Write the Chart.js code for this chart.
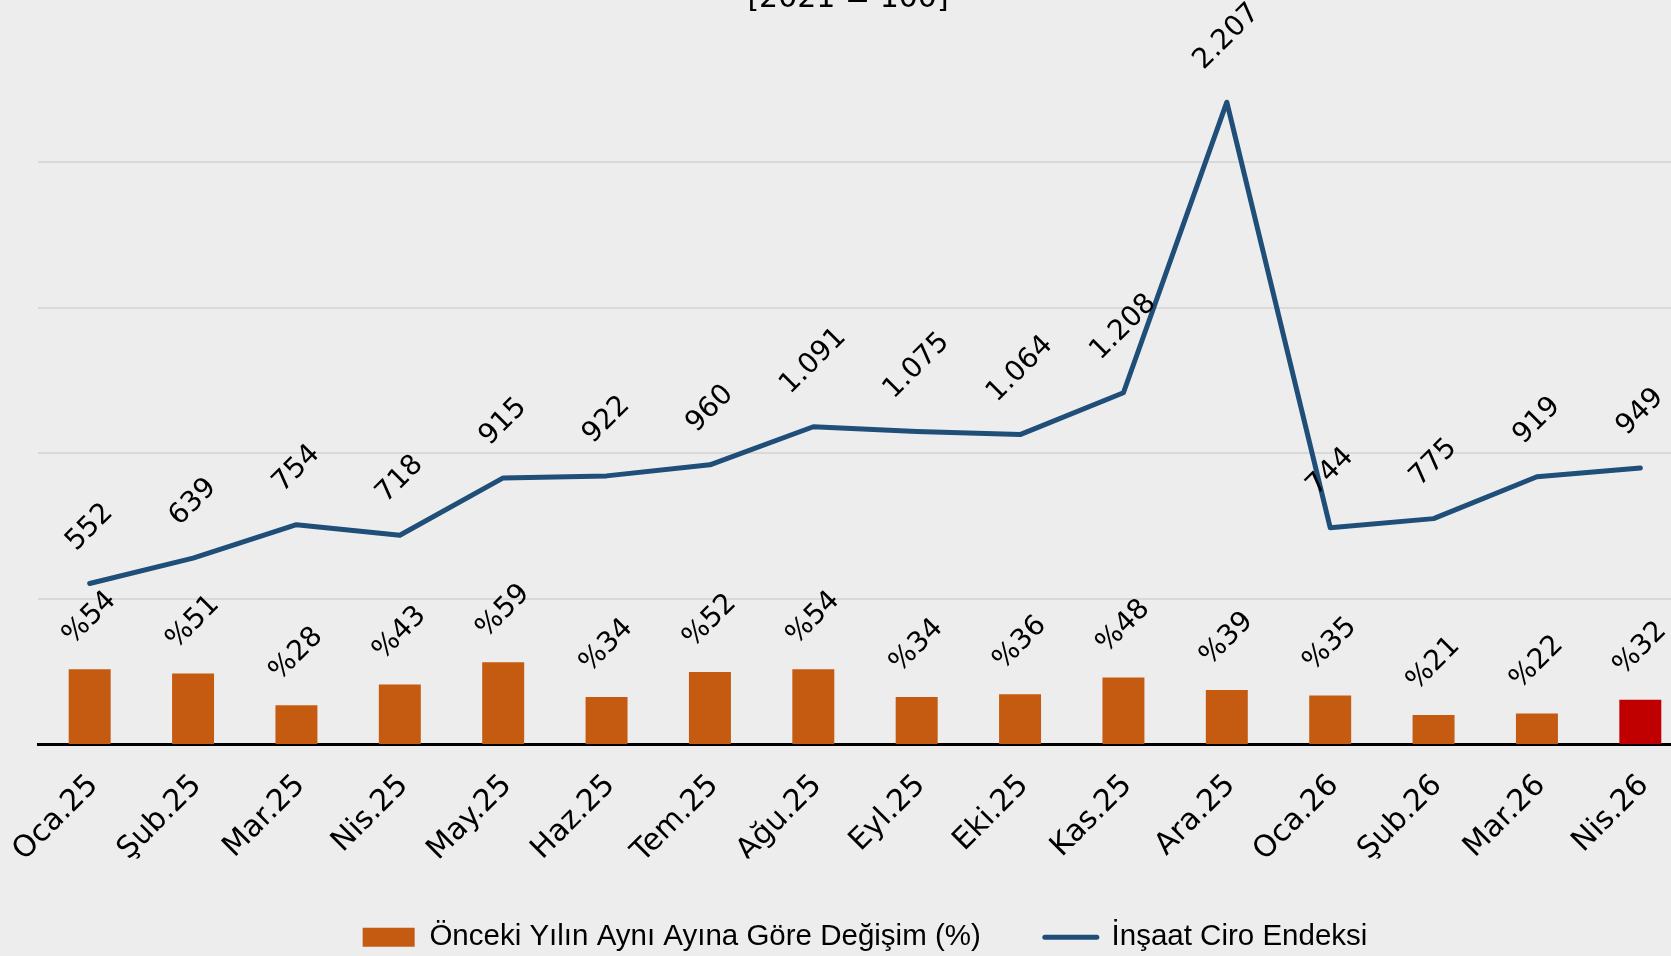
<!DOCTYPE html>
<html lang="tr">
<head>
<meta charset="utf-8">
<title>İnşaat Ciro Endeksi</title>
<script src="https://cdn.jsdelivr.net/npm/chart.js@4.4.1/dist/chart.umd.min.js"></script>
<style>
  html, body { margin: 0; padding: 0; background: #ededed; overflow: hidden; }
  #wrap { width: 1700px; height: 956px; position: relative; }
</style>
</head>
<body>
<div id="wrap"><canvas id="ciroChart"></canvas></div>
<script>
// veriler
const aylar = ['Oca.25', 'Şub.25', 'Mar.25', 'Nis.25', 'May.25', 'Haz.25', 'Tem.25', 'Ağu.25',
               'Eyl.25', 'Eki.25', 'Kas.25', 'Ara.25', 'Oca.26', 'Şub.26', 'Mar.26', 'Nis.26'];
const degisim = [54, 51, 28, 43, 59, 34, 52, 54, 34, 36, 48, 39, 35, 21, 22, 32];
const endeks = [552, 639, 754, 718, 915, 922, 960, 1091, 1075, 1064, 1208, 2207, 744, 775, 919, 949];
const endeksTikleri = [0, 500, 1000, 1500, 2000, 2500];
const baslik = '[2021 = 100]';
const degisimEtiket = 'Önceki Yılın Aynı Ayına Göre Değişim (%)';
const endeksEtiket = 'İnşaat Ciro Endeksi';

const TURUNCU = '#c55a11';
const KIRMIZI = '#c00000';
const LACIVERT = '#1f4e79';
const FONT = '"DejaVu Sans", sans-serif';

// binlik ayraç nokta
const binlik = v => String(v).replace(/\B(?=(\d{3})+(?!\d))/g, '.');

// değer etiketleri (45 derece eğik)
const degerEtiketleri = {
    id: 'degerEtiketleri',
    afterDatasetsDraw(chart) {
        const ctx = chart.ctx;
        ctx.save();
        ctx.font = '28px ' + FONT;
        ctx.fillStyle = '#000';
        ctx.textAlign = 'center';
        ctx.textBaseline = 'middle';
        chart.data.datasets.forEach((ds, i) => {
            const meta = chart.getDatasetMeta(i);
            const cizgi = meta.type === 'line';
            const bosluk = cizgi ? 30 : 22;
            meta.data.forEach((el, j) => {
                const yazi = cizgi ? binlik(ds.data[j]) : '%' + ds.data[j];
                const w = ctx.measureText(yazi).width;
                const yari = (w + 20) * Math.SQRT1_2 / 2;
                ctx.save();
                ctx.translate(el.x, el.y - bosluk - yari);
                ctx.rotate(-Math.PI / 4);
                ctx.fillText(yazi, 0, 0);
                ctx.restore();
            });
        });
        ctx.restore();
    }
};

// üstte kesik başlık
const ustBaslik = {
    id: 'ustBaslik',
    afterDraw(chart) {
        const ctx = chart.ctx;
        ctx.save();
        ctx.font = '30px ' + FONT;
        ctx.fillStyle = '#000';
        ctx.textAlign = 'center';
        ctx.textBaseline = 'alphabetic';
        ctx.fillText(baslik, chart.width / 2 - 2, 7);
        ctx.restore();
    }
};

const config = {
    type: 'bar',
    data: {
        labels: aylar,
        datasets: [{
            type: 'bar',
            label: degisimEtiket,
            data: degisim,
            yAxisID: 'y1',
            backgroundColor: c => c.dataIndex === aylar.length - 1 ? KIRMIZI : TURUNCU,
            categoryPercentage: 1,
            barPercentage: 0.406,
            order: 2
        }, {
            type: 'line',
            label: endeksEtiket,
            data: endeks,
            yAxisID: 'y',
            borderColor: LACIVERT,
            borderWidth: 5,
            borderCapStyle: 'round',
            borderJoinStyle: 'round',
            pointRadius: 0,
            tension: 0,
            order: 1
        }]
    },
    options: {
        responsive: true,
        maintainAspectRatio: false,
        animation: false,
        layout: { padding: { left: 38, right: 8, top: 17, bottom: -6 } },
        scales: {
            x: {
                grid: { display: false, drawTicks: false },
                border: { display: true, color: '#000', width: 3 },
                ticks: {
                    color: '#000',
                    font: { family: FONT, size: 30 },
                    minRotation: 45,
                    maxRotation: 45,
                    autoSkip: false,
                    padding: 24,
                    labelOffset: 4
                },
                afterFit(scale) {
                    scale.height = 114.5;
                    scale.paddingLeft = 0;
                    scale.paddingRight = 0;
                }
            },
            y: {
                min: endeksTikleri[0],
                max: endeksTikleri[endeksTikleri.length - 1],
                afterBuildTicks(scale) { scale.ticks = endeksTikleri.map(v => ({ value: v })); },
                ticks: { display: false },
                grid: {
                    color: c => c.tick.value === endeksTikleri[endeksTikleri.length - 1] ? 'rgba(0,0,0,0)' : '#d9d9d9',
                    lineWidth: 2,
                    drawTicks: false
                },
                border: { display: false }
            },
            y1: { min: 0, max: 525, display: false }
        },
        plugins: {
            tooltip: { enabled: false },
            legend: {
                position: 'bottom',
                labels: {
                    font: { family: '"Liberation Sans", sans-serif', size: 29.5 },
                    color: '#000',
                    usePointStyle: true,
                    pointStyleWidth: 52,
                    boxHeight: 19,
                    padding: 64,
                    generateLabels: () => [{
                        text: degisimEtiket, fillStyle: TURUNCU, strokeStyle: TURUNCU,
                        lineWidth: 0, pointStyle: 'rect', hidden: false, datasetIndex: 0, fontColor: '#000'
                    }, {
                        text: endeksEtiket, fillStyle: LACIVERT, strokeStyle: LACIVERT,
                        lineWidth: 5, lineCap: 'round', pointStyle: 'line', hidden: false, datasetIndex: 1, fontColor: '#000'
                    }]
                }
            }
        }
    },
    plugins: [degerEtiketleri, ustBaslik]
};

const ctx = document.getElementById('ciroChart').getContext('2d');
new Chart(ctx, config);
</script>
</body>
</html>
